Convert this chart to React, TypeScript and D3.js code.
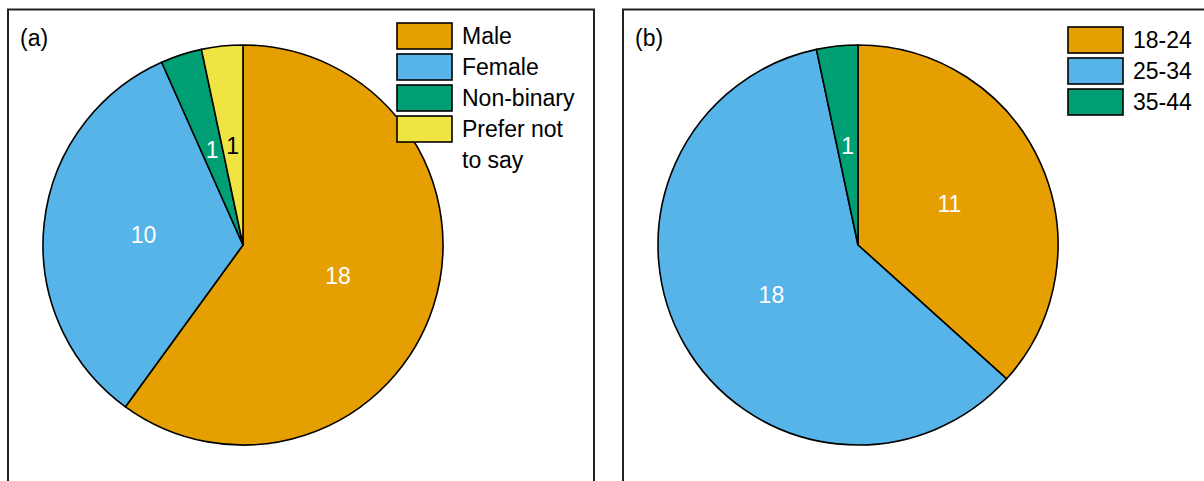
import React, { useEffect, useRef } from 'react';
import * as d3 from 'd3';

const genderLabels = ['Male', 'Female', 'Non-binary', 'Prefer not to say'];
const genderCounts = [18, 10, 1, 1];
const ageLabels = ['18-24', '25-34', '35-44'];
const ageCounts = [11, 18, 1];
const sliceColors = ['#E69F00', '#56B4E9', '#009E73', '#F0E442'];
const labelColors = ['#ffffff', '#ffffff', '#ffffff', '#000000'];

interface Panel {
  tag: string;
  labels: string[];
  counts: number[];
  x0: number;
  x1: number;
  cx: number;
  legendX: number;
  legendY: number;
}

const panels: Panel[] = [
  { tag: '(a)', labels: genderLabels, counts: genderCounts, x0: 8, x1: 594, cx: 243, legendX: 397, legendY: 23 },
  { tag: '(b)', labels: ageLabels, counts: ageCounts, x0: 623, x1: 1215, cx: 858, legendX: 1068, legendY: 27 },
];

const App: React.FC = () => {
  const svgRef = useRef<SVGSVGElement>(null);

  useEffect(() => {
    if (!svgRef.current) return;
    const svg = d3.select(svgRef.current);
    svg.selectAll('*').remove();

    const width = 1204;
    const height = 481;
    const radius = 200;
    const cy = 245;
    const font = 'Liberation Sans, Arial, sans-serif';

    svg.attr('width', width).attr('height', height);

    panels.forEach((p) => {
      // Frame
      svg.append('rect')
        .attr('x', p.x0)
        .attr('y', 9.5)
        .attr('width', p.x1 - p.x0)
        .attr('height', 520)
        .attr('fill', '#fff')
        .attr('stroke', '#222')
        .attr('stroke-width', 2);

      svg.append('text')
        .attr('x', p.x0 + 12)
        .attr('y', 46)
        .attr('font-family', font)
        .attr('font-size', 23)
        .text(p.tag);

      const pie = d3.pie<number>().sort(null).value((d) => d);
      const arcs = pie(p.counts);
      const arc = d3.arc<d3.PieArcDatum<number>>().innerRadius(0).outerRadius(radius);
      const labelArc = d3.arc<d3.PieArcDatum<number>>().innerRadius(radius * 0.5).outerRadius(radius * 0.5);

      const g = svg.append('g').attr('transform', `translate(${p.cx},${cy})`);

      g.selectAll('path')
        .data(arcs)
        .enter()
        .append('path')
        .attr('d', arc)
        .attr('fill', (_, i) => sliceColors[i])
        .attr('stroke', '#000')
        .attr('stroke-width', 1.6)
        .attr('stroke-linejoin', 'round');

      g.selectAll('text')
        .data(arcs)
        .enter()
        .append('text')
        .attr('transform', (d) => {
          const [x, y] = labelArc.centroid(d);
          return `translate(${x},${y})`;
        })
        .attr('text-anchor', 'middle')
        .attr('dominant-baseline', 'central')
        .attr('font-family', font)
        .attr('font-size', 23)
        .attr('fill', (_, i) => labelColors[i])
        .text((d) => String(d.data));

      // Legend
      const lg = svg.append('g').attr('transform', `translate(${p.legendX},${p.legendY})`);
      const rowH = 31;
      p.labels.forEach((lab, i) => {
        lg.append('rect')
          .attr('x', 0)
          .attr('y', i * rowH)
          .attr('width', 55)
          .attr('height', 26)
          .attr('fill', sliceColors[i])
          .attr('stroke', '#000')
          .attr('stroke-width', 1.6);
        const words = lab === 'Prefer not to say' ? ['Prefer not', 'to say'] : [lab];
        words.forEach((w, j) => {
          lg.append('text')
            .attr('x', 65)
            .attr('y', i * rowH + 21 + j * rowH)
            .attr('font-family', font)
            .attr('font-size', 23)
            .attr('fill', '#000')
            .text(w);
        });
      });
    });
  }, []);

  return (
    <div style={{ position: 'absolute', left: 0, top: 0 }}>
      <svg ref={svgRef} style={{ display: 'block' }}></svg>
    </div>
  );
};

export default App;
